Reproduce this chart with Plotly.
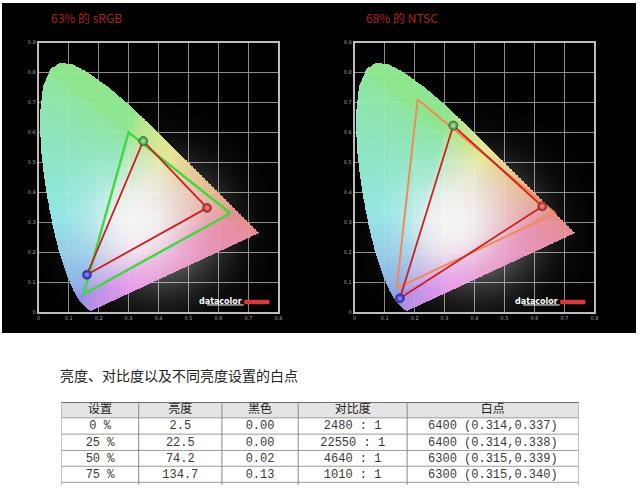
import base64
import struct
import zlib

import numpy as np
import plotly.graph_objects as go

# ---------------- data ----------------
# CIE 1931 spectral locus (x, y)
LOCUS_X = [0.1741, 0.1714, 0.1644, 0.1566, 0.1440, 0.1355, 0.1241, 0.1096, 0.0913,
           0.0687, 0.0454, 0.0235, 0.0082, 0.0039, 0.0139, 0.0389, 0.0743, 0.1142,
           0.1547, 0.2296, 0.3016, 0.3731, 0.4441, 0.5125, 0.5752, 0.6270, 0.6915,
           0.7190, 0.7347]
LOCUS_Y = [0.0050, 0.0051, 0.0109, 0.0177, 0.0297, 0.0399, 0.0578, 0.0868, 0.1327,
           0.2007, 0.2950, 0.4127, 0.5384, 0.6548, 0.7502, 0.8120, 0.8338, 0.8262,
           0.8059, 0.7543, 0.6923, 0.6245, 0.5547, 0.4866, 0.4242, 0.3725, 0.3083,
           0.2809, 0.2653]

# reference gamuts (R, G, B)
SRGB_X = [0.64, 0.30, 0.15]
SRGB_Y = [0.33, 0.60, 0.06]
NTSC_X = [0.67, 0.21, 0.14]
NTSC_Y = [0.33, 0.71, 0.08]

# measured primaries (R, G, B)
MEAS_L_X = [0.562, 0.349, 0.161]
MEAS_L_Y = [0.348, 0.571, 0.125]
MEAS_R_X = [0.626, 0.329, 0.151]
MEAS_R_Y = [0.353, 0.623, 0.046]

TITLE_L = "63% 的 sRGB"
TITLE_R = "68% 的 NTSC"

X_TICKS = [0, 0.1, 0.2, 0.3, 0.4, 0.5, 0.6, 0.7, 0.8]
X_TICK_TEXT = ["0", "0.1", "0.2", "0.3", "0.4", "0.5", "0.6", "0.7", "0.8"]
Y_TICKS = [0, 0.1, 0.2, 0.3, 0.4, 0.5, 0.6, 0.7, 0.8, 0.9]
Y_TICK_TEXT = ["0", "0.1", "0.2", "0.3", "0.4", "0.5", "0.6", "0.7", "0.8", "0.9"]

TABLE_TITLE = "亮度、对比度以及不同亮度设置的白点"
TABLE_HEADER = ["设置", "亮度", "黑色", "对比度", "白点"]
SETTING = ["0 %", "25 %", "50 %", "75 %"]
BRIGHTNESS = [2.5, 22.5, 74.2, 134.7]
BLACK = [0.00, 0.00, 0.02, 0.13]
CONTRAST = [2480, 22550, 4640, 1010]
WP_TEMP = [6400, 6400, 6300, 6300]
WP_X = [0.314, 0.314, 0.315, 0.315]
WP_Y = [0.337, 0.338, 0.339, 0.340]

W, H = 640, 488


def px_x(p):
    return p / W


def px_y(p):
    return 1 - p / H


# ---------------- chromaticity colour field (background picture) ----------------
def inside_poly(X, Y, px, py):
    inside = np.zeros(X.shape, dtype=bool)
    n = len(px)
    j = n - 1
    for i in range(n):
        xi, yi, xj, yj = px[i], py[i], px[j], py[j]
        cond = ((yi > Y) != (yj > Y))
        xint = (xj - xi) * (Y - yi) / (yj - yi + 1e-12) + xi
        inside ^= cond & (X < xint)
        j = i
    return inside


def png_uri(arr):
    h, w, _ = arr.shape
    raw = b"".join(b"\x00" + arr[r].tobytes() for r in range(h))

    def chunk(tag, data):
        c = struct.pack(">I", len(data)) + tag + data
        return c + struct.pack(">I", zlib.crc32(tag + data) & 0xFFFFFFFF)

    png = b"\x89PNG\r\n\x1a\n"
    png += chunk(b"IHDR", struct.pack(">IIBBBBB", w, h, 8, 6, 0, 0, 0))
    png += chunk(b"IDAT", zlib.compress(raw, 9))
    png += chunk(b"IEND", b"")
    return "data:image/png;base64," + base64.b64encode(png).decode()


D = 0.001
gx = np.arange(0, 0.8, D) + D / 2
gy = np.arange(0, 0.9, D) + D / 2
GX, GY = np.meshgrid(gx, gy)
mask = inside_poly(GX, GY, LOCUS_X, LOCUS_Y)

yy = np.maximum(GY, 1e-3)
Xc = GX / yy
Zc = (1 - GX - GY) / yy
r = 3.2406 * Xc - 1.5372 - 0.4986 * Zc
g = -0.9689 * Xc + 1.8758 + 0.0415 * Zc
b = 0.0557 * Xc - 0.2040 + 1.0570 * Zc
rgb = np.clip(np.stack([r, g, b], axis=-1), 0, None)
rgb = rgb / np.maximum(rgb.max(axis=-1, keepdims=True), 1e-6)
rgb = rgb ** (1 / 2.2)
rgb = rgb * 0.38 + 0.62
rgb = rgb * 0.94
wg = np.exp(-(((GX - 0.33) / 0.16) ** 2 + ((GY - 0.30) / 0.16) ** 2))[..., None]
rgb = rgb * (1 - wg) + wg

glow = 0.55 * np.exp(-(((GX - 0.40) / 0.2) ** 2 + ((GY - 0.28) / 0.2) ** 2))
img = np.zeros(GX.shape + (4,), dtype=np.uint8)
img[..., :3] = np.where(mask[..., None], rgb * 255, 255).clip(0, 255).astype(np.uint8)
img[..., 3] = np.where(mask, 0.96 * 255, glow * 255).clip(0, 255).astype(np.uint8)
SRC = png_uri(img)

# ---------------- figure ----------------
fig = go.Figure()


def add_panel(xa, ya, ref_x, ref_y, ref_color, ref_w, meas_x, meas_y):
    fig.add_trace(go.Image(source=SRC, x0=D / 2, dx=D, y0=D / 2, dy=D,
                           xaxis=xa, yaxis=ya, hoverinfo="skip"))
    fig.add_trace(go.Scatter(x=ref_x + ref_x[:1], y=ref_y + ref_y[:1], mode="lines",
                             line=dict(color=ref_color, width=ref_w),
                             xaxis=xa, yaxis=ya, hoverinfo="skip"))
    fig.add_trace(go.Scatter(x=meas_x + meas_x[:1], y=meas_y + meas_y[:1], mode="lines",
                             line=dict(color="#cc2020", width=1.8),
                             xaxis=xa, yaxis=ya, hoverinfo="skip"))
    fig.add_trace(go.Scatter(x=meas_x, y=meas_y, mode="markers",
                             marker=dict(size=9, color=["#b01818", "#2f8a2f", "#1a1ab8"],
                                         gradient=dict(type="radial",
                                                       color=["#ff9a9a", "#b8f0b0", "#9a9aff"]),
                                         line=dict(width=0.5, color="#333333")),
                             xaxis=xa, yaxis=ya, hoverinfo="skip"))


add_panel("x", "y", SRGB_X, SRGB_Y, "#3fd83f", 2.4, MEAS_L_X, MEAS_L_Y)
add_panel("x2", "y2", NTSC_X, NTSC_Y, "#f08a5a", 2.0, MEAS_R_X, MEAS_R_Y)

# ---------------- table (own axes, units = pixels inside the table box) ----------------
COL_EDGES = [0, 78, 162, 239, 349, 522]
ROW_EDGES = [0, 16, 32.5, 49, 65, 81.3]
TABLE_BOTTOM = 84
col_centers = [(COL_EDGES[i] + COL_EDGES[i + 1]) / 2 for i in range(5)]
row_centers = [(ROW_EDGES[i] + ROW_EDGES[i + 1]) / 2 + 0.5 for i in range(5)]

cell_cols = [SETTING,
             [f"{v:.1f}" for v in BRIGHTNESS],
             [f"{v:.2f}" for v in BLACK],
             [f"{v} : 1" for v in CONTRAST],
             [f"{t} ({a:.3f},{c:.3f})" for t, a, c in zip(WP_TEMP, WP_X, WP_Y)]]

fig.add_trace(go.Scatter(x=col_centers, y=[row_centers[0]] * 5, text=TABLE_HEADER,
                         mode="text", textposition="middle center",
                         textfont=dict(family="Noto Sans CJK SC", size=12, color="#222222"),
                         xaxis="x3", yaxis="y3", hoverinfo="skip", cliponaxis=False))
tx, ty, tt = [], [], []
for ci, col in enumerate(cell_cols):
    for ri, val in enumerate(col):
        tx.append(col_centers[ci])
        ty.append(row_centers[ri + 1])
        tt.append(val)
fig.add_trace(go.Scatter(x=tx, y=ty, text=tt, mode="text", textposition="middle center",
                         textfont=dict(family="Liberation Mono", size=12, color="#3a3a3a"),
                         xaxis="x3", yaxis="y3", hoverinfo="skip", cliponaxis=False))

axis_common = dict(showgrid=True, gridcolor="#8c8c8c", gridwidth=1, zeroline=False,
                   showline=True, linecolor="#bdbdbd", linewidth=2, mirror=True,
                   ticks="", tickfont=dict(size=5, color="#aaaaaa", family="DejaVu Sans"),
                   fixedrange=True, autorange=False)

fig.update_layout(
    width=W, height=H, margin=dict(l=0, r=0, t=0, b=0),
    paper_bgcolor="white", plot_bgcolor="rgba(0,0,0,0)", showlegend=False,
    xaxis=dict(domain=[px_x(36), px_x(280)], range=[0, 0.8], tickvals=X_TICKS,
               ticktext=X_TICK_TEXT, anchor="y", **axis_common),
    yaxis=dict(domain=[px_y(313), px_y(40)], range=[0, 0.9], tickvals=Y_TICKS,
               ticktext=Y_TICK_TEXT, anchor="x", **axis_common),
    xaxis2=dict(domain=[px_x(355), px_x(599)], range=[0, 0.8], tickvals=X_TICKS,
                ticktext=X_TICK_TEXT, anchor="y2", **axis_common),
    yaxis2=dict(domain=[px_y(313), px_y(40)], range=[0, 0.9], tickvals=Y_TICKS,
                ticktext=Y_TICK_TEXT, anchor="x2", **axis_common),
    xaxis3=dict(domain=[px_x(60), px_x(582)], range=[0, 522], visible=False,
                fixedrange=True, anchor="y3"),
    yaxis3=dict(domain=[0, px_y(404)], range=[TABLE_BOTTOM, 0], visible=False,
                fixedrange=True, anchor="x3"),
)

shapes = [
    dict(type="rect", xref="paper", yref="paper", x0=0, x1=1, y0=px_y(334), y1=1,
         fillcolor="black", line=dict(width=0), layer="below"),
    # table shadow and header fill
    dict(type="rect", xref="x3", yref="y3", x0=522, x1=528, y0=4, y1=TABLE_BOTTOM,
         fillcolor="rgba(0,0,0,0.13)", line=dict(width=0), layer="below"),
    dict(type="rect", xref="x3", yref="y3", x0=0, x1=522, y0=0, y1=ROW_EDGES[1],
         fillcolor="#e4e4e4", line=dict(width=0), layer="below"),
]
for yv in ROW_EDGES:
    shapes.append(dict(type="line", xref="x3", yref="y3", x0=0, x1=522, y0=yv, y1=yv,
                       line=dict(color="#444444" if yv == 0 else "#9a9a9a",
                                 width=1.5 if yv == 0 else 1)))
for xv in COL_EDGES:
    shapes.append(dict(type="line", xref="x3", yref="y3", x0=xv, x1=xv, y0=0,
                       y1=TABLE_BOTTOM, line=dict(color="#8a8a8a", width=1)))

annotations = [
    dict(text=TITLE_L, xref="paper", yref="paper", x=px_x(47), y=px_y(15),
         xanchor="left", yanchor="middle", showarrow=False,
         font=dict(family="Noto Sans CJK SC", size=12, color="#b02424")),
    dict(text=TITLE_R, xref="paper", yref="paper", x=px_x(365), y=px_y(15),
         xanchor="left", yanchor="middle", showarrow=False,
         font=dict(family="Noto Sans CJK SC", size=12, color="#b02424")),
    dict(text=TABLE_TITLE, xref="paper", yref="paper", x=px_x(57), y=px_y(377),
         xanchor="left", yanchor="middle", showarrow=False,
         font=dict(family="Noto Sans CJK SC", size=14, color="#222222")),
]
for xa, ya in (("x", "y"), ("x2", "y2")):
    annotations.append(dict(text="<b>datacolor</b>", xref=xa, yref=ya, x=0.684, y=0.037,
                            xanchor="right", yanchor="middle", showarrow=False,
                            font=dict(family="DejaVu Sans", size=8, color="white")))
    shapes.append(dict(type="rect", xref=xa, yref=ya, x0=0.686, x1=0.77, y0=0.026, y1=0.041,
                       fillcolor="#d83a3a", line=dict(width=0)))
    shapes.append(dict(type="line", xref=xa, yref=ya, x0=0.562, x1=0.684, y0=0.024, y1=0.024,
                       line=dict(color="white", width=1)))

fig.update_layout(shapes=shapes, annotations=annotations)

fig.write_html("out.html", config={"displayModeBar": False, "staticPlot": True},
               post_script="document.body.style.margin='0';"
                           "document.body.style.overflow='hidden';"
                           "document.documentElement.style.overflow='hidden';")
